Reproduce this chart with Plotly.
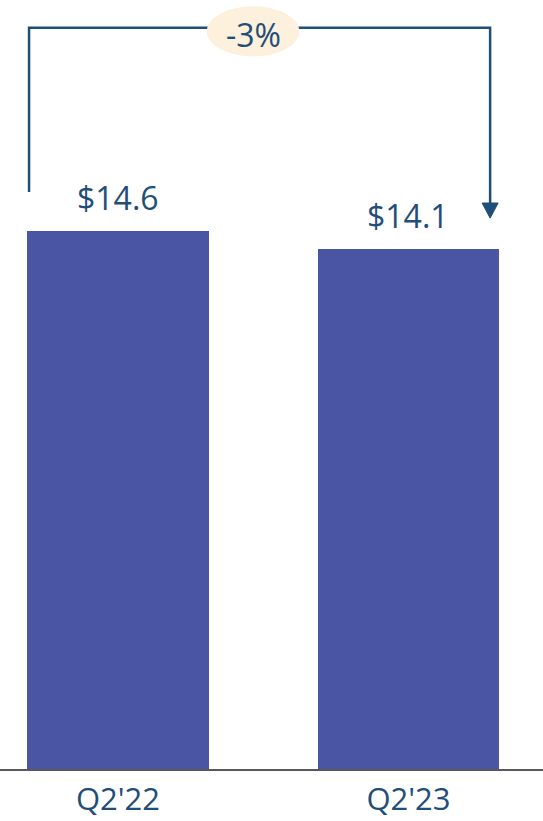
import plotly.graph_objects as go

# Revenue by quarter ($)
categories = ["Q2'22", "Q2'23"]
values = [14.6, 14.1]
value_labels = ["$14.6", "$14.1"]
change_label = "-3%"

BAR_COLOR = "#4A56A4"
TEXT_COLOR = "#1F4E79"
LINE_COLOR = "#1F4E79"
PILL_COLOR = "#FDF0DC"
FONT = "Open Sans"

x_pos = list(range(len(categories)))

fig = go.Figure()
fig.add_trace(go.Bar(
    x=x_pos,
    y=values,
    width=0.626,
    marker=dict(color=BAR_COLOR, line=dict(width=0)),
    hoverinfo="skip",
))

# Value labels above each bar
for xp, v, lab in zip(x_pos, values, value_labels):
    fig.add_annotation(x=xp, y=v, xref="x", yref="y", text=lab,
                       showarrow=False, yanchor="middle", yshift=34,
                       font=dict(family=FONT, size=32, color=TEXT_COLOR))

# Change bracket: from the first bar up, across, and down to the second bar
top = max(values) * 1.378
left_x = x_pos[0] - 0.306
right_x = x_pos[1] + 0.281
left_bottom = values[0] + 1.06
arrow_tip = values[1] + 0.85
head_h = 0.41
head_w = 0.0275

fig.add_shape(type="path",
              path=f"M {left_x} {left_bottom} L {left_x} {top} L {right_x} {top} L {right_x} {arrow_tip + head_h}",
              xref="x", yref="y", line=dict(color=LINE_COLOR, width=2.5))
fig.add_shape(type="path",
              path=f"M {right_x - head_w} {arrow_tip + head_h} L {right_x + head_w} {arrow_tip + head_h} L {right_x} {arrow_tip} Z",
              xref="x", yref="y", fillcolor=LINE_COLOR, line=dict(color=LINE_COLOR, width=1))

# Percentage change pill
mid_x = (x_pos[0] + x_pos[1]) / 2 - 0.035
pill_y = top - 0.1
fig.add_shape(type="circle", xref="x", yref="y",
              x0=mid_x - 0.16, x1=mid_x + 0.16,
              y0=pill_y - 0.68, y1=pill_y + 0.68,
              fillcolor=PILL_COLOR, line=dict(width=0))
fig.add_annotation(x=mid_x, y=pill_y, xref="x", yref="y",
                   text=change_label, showarrow=False, yanchor="middle", yshift=-3,
                   font=dict(family=FONT, size=32, color=TEXT_COLOR))

fig.update_layout(
    width=543, height=821,
    margin=dict(l=0, r=0, t=0, b=52),
    plot_bgcolor="white", paper_bgcolor="white",
    showlegend=False,
    bargap=0,
)
fig.update_xaxes(
    range=[-0.406, 1.463],
    tickvals=x_pos, ticktext=categories,
    tickfont=dict(family=FONT, size=31, color=TEXT_COLOR),
    ticklabelstandoff=2, automargin=False,
    showline=True, linecolor="#595959", linewidth=2,
    showgrid=False, zeroline=False, ticks="",
)
fig.update_yaxes(range=[0, 20.87], visible=False, showgrid=False, zeroline=False)

fig.write_html("out.html")
